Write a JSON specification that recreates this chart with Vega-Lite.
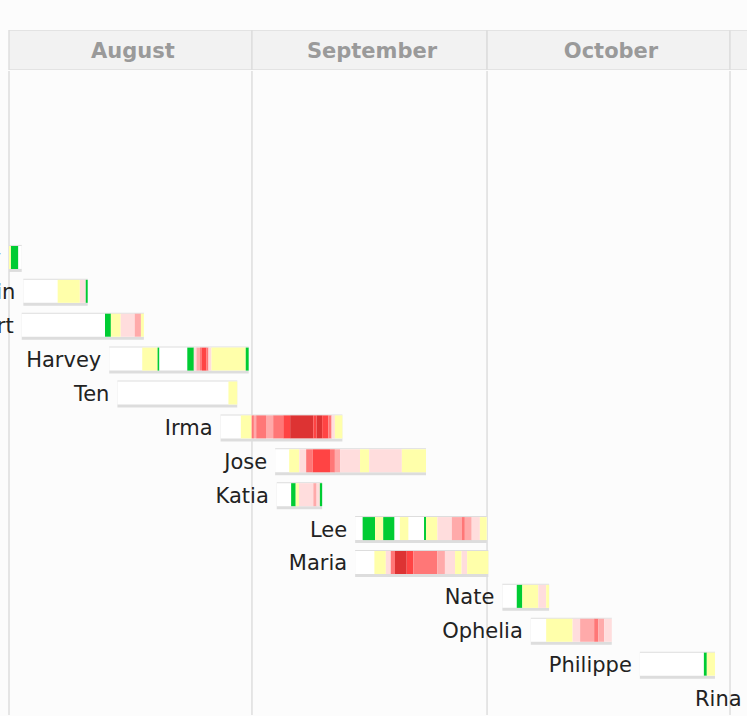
{
  "$schema": "https://vega.github.io/schema/vega-lite/v6.json",
  "background": "#fcfcfc",
  "padding": {"left": 0, "top": 30, "right": 0, "bottom": 0},
  "spacing": 0,
  "config": {"view": {"stroke": null}, "concat": {"spacing": 0}},
  "datasets": {
    "months": [
      {"month": "August", "start": "2017-08-01T00:00Z", "end": "2017-09-01T00:00Z", "mid": "2017-08-16T12:00Z"},
      {"month": "September", "start": "2017-09-01T00:00Z", "end": "2017-10-01T00:00Z", "mid": "2017-09-16T00:00Z"},
      {"month": "October", "start": "2017-10-01T00:00Z", "end": "2017-11-01T00:00Z", "mid": "2017-10-16T12:00Z"},
      {"month": "November", "start": "2017-11-01T00:00Z", "end": "2017-12-01T00:00Z", "mid": "2017-11-16T00:00Z"}
    ],
    "storms": [
      {"name": "Emily", "start": "2017-08-01T00:00Z", "end": "2017-08-02T15:00Z"},
      {"name": "Franklin", "start": "2017-08-02T20:00Z", "end": "2017-08-11T01:00Z"},
      {"name": "Gert", "start": "2017-08-02T15:00Z", "end": "2017-08-18T05:00Z"},
      {"name": "Harvey", "start": "2017-08-13T19:00Z", "end": "2017-08-31T14:00Z"},
      {"name": "Ten", "start": "2017-08-14T20:00Z", "end": "2017-08-30T03:00Z"},
      {"name": "Irma", "start": "2017-08-28T00:00Z", "end": "2017-09-12T13:00Z"},
      {"name": "Jose", "start": "2017-09-03T23:00Z", "end": "2017-09-23T05:00Z"},
      {"name": "Katia", "start": "2017-09-04T04:00Z", "end": "2017-09-09T23:00Z"},
      {"name": "Lee", "start": "2017-09-14T04:00Z", "end": "2017-09-30T23:00Z"},
      {"name": "Maria", "start": "2017-09-14T04:00Z", "end": "2017-10-01T04:00Z"},
      {"name": "Nate", "start": "2017-10-02T23:00Z", "end": "2017-10-08T22:00Z"},
      {"name": "Ophelia", "start": "2017-10-06T14:00Z", "end": "2017-10-16T22:00Z"},
      {"name": "Philippe", "start": "2017-10-20T12:00Z", "end": "2017-10-30T02:00Z"},
      {"name": "Rina", "start": "2017-11-03T12:00Z", "end": "2017-11-09T12:00Z"}
    ],
    "segs": [
      {"n": "Emily", "s": "2017-08-01T00:00Z", "e": "2017-08-01T06:00Z", "c": "TS"},
      {"n": "Emily", "s": "2017-08-01T06:00Z", "e": "2017-08-02T04:00Z", "c": "TD"},
      {"n": "Franklin", "s": "2017-08-07T05:00Z", "e": "2017-08-10T01:00Z", "c": "TS"},
      {"n": "Franklin", "s": "2017-08-10T01:00Z", "e": "2017-08-10T19:00Z", "c": "C1"},
      {"n": "Franklin", "s": "2017-08-10T19:00Z", "e": "2017-08-11T01:00Z", "c": "TD"},
      {"n": "Gert", "s": "2017-08-13T06:00Z", "e": "2017-08-14T00:00Z", "c": "TD"},
      {"n": "Gert", "s": "2017-08-14T00:00Z", "e": "2017-08-15T06:00Z", "c": "TS"},
      {"n": "Gert", "s": "2017-08-15T06:00Z", "e": "2017-08-17T01:00Z", "c": "C1"},
      {"n": "Gert", "s": "2017-08-17T01:00Z", "e": "2017-08-17T20:00Z", "c": "C2"},
      {"n": "Gert", "s": "2017-08-17T20:00Z", "e": "2017-08-18T05:00Z", "c": "TS"},
      {"n": "Harvey", "s": "2017-08-18T00:00Z", "e": "2017-08-19T23:00Z", "c": "TS"},
      {"n": "Harvey", "s": "2017-08-19T23:00Z", "e": "2017-08-20T04:00Z", "c": "TD"},
      {"n": "Harvey", "s": "2017-08-23T18:00Z", "e": "2017-08-24T14:00Z", "c": "TD"},
      {"n": "Harvey", "s": "2017-08-24T14:00Z", "e": "2017-08-24T22:00Z", "c": "C1"},
      {"n": "Harvey", "s": "2017-08-24T22:00Z", "e": "2017-08-25T09:00Z", "c": "C2"},
      {"n": "Harvey", "s": "2017-08-25T09:00Z", "e": "2017-08-25T15:00Z", "c": "C3"},
      {"n": "Harvey", "s": "2017-08-25T15:00Z", "e": "2017-08-26T05:00Z", "c": "C4"},
      {"n": "Harvey", "s": "2017-08-26T05:00Z", "e": "2017-08-26T11:00Z", "c": "C3"},
      {"n": "Harvey", "s": "2017-08-26T11:00Z", "e": "2017-08-26T20:00Z", "c": "C1"},
      {"n": "Harvey", "s": "2017-08-26T20:00Z", "e": "2017-08-31T05:00Z", "c": "TS"},
      {"n": "Harvey", "s": "2017-08-31T05:00Z", "e": "2017-08-31T14:00Z", "c": "TD"},
      {"n": "Ten", "s": "2017-08-29T00:00Z", "e": "2017-08-30T03:00Z", "c": "TS"},
      {"n": "Irma", "s": "2017-08-30T14:00Z", "e": "2017-08-31T23:00Z", "c": "TS"},
      {"n": "Irma", "s": "2017-08-31T23:00Z", "e": "2017-09-01T06:00Z", "c": "C3"},
      {"n": "Irma", "s": "2017-09-01T06:00Z", "e": "2017-09-01T13:00Z", "c": "C2"},
      {"n": "Irma", "s": "2017-09-01T13:00Z", "e": "2017-09-02T19:00Z", "c": "C3"},
      {"n": "Irma", "s": "2017-09-02T19:00Z", "e": "2017-09-03T17:00Z", "c": "C2"},
      {"n": "Irma", "s": "2017-09-03T17:00Z", "e": "2017-09-05T00:00Z", "c": "C3"},
      {"n": "Irma", "s": "2017-09-05T00:00Z", "e": "2017-09-05T21:00Z", "c": "C4"},
      {"n": "Irma", "s": "2017-09-05T21:00Z", "e": "2017-09-08T20:00Z", "c": "C5"},
      {"n": "Irma", "s": "2017-09-08T20:00Z", "e": "2017-09-09T06:00Z", "c": "C4"},
      {"n": "Irma", "s": "2017-09-09T06:00Z", "e": "2017-09-09T23:00Z", "c": "C5"},
      {"n": "Irma", "s": "2017-09-09T23:00Z", "e": "2017-09-10T18:00Z", "c": "C4"},
      {"n": "Irma", "s": "2017-09-10T18:00Z", "e": "2017-09-11T04:00Z", "c": "C3"},
      {"n": "Irma", "s": "2017-09-11T04:00Z", "e": "2017-09-11T14:00Z", "c": "C1"},
      {"n": "Irma", "s": "2017-09-11T14:00Z", "e": "2017-09-12T13:00Z", "c": "TS"},
      {"n": "Jose", "s": "2017-09-05T18:00Z", "e": "2017-09-07T01:00Z", "c": "TS"},
      {"n": "Jose", "s": "2017-09-07T01:00Z", "e": "2017-09-07T22:00Z", "c": "C1"},
      {"n": "Jose", "s": "2017-09-07T22:00Z", "e": "2017-09-08T18:00Z", "c": "C3"},
      {"n": "Jose", "s": "2017-09-08T18:00Z", "e": "2017-09-10T23:00Z", "c": "C4"},
      {"n": "Jose", "s": "2017-09-10T23:00Z", "e": "2017-09-11T14:00Z", "c": "C3"},
      {"n": "Jose", "s": "2017-09-11T14:00Z", "e": "2017-09-12T06:00Z", "c": "C2"},
      {"n": "Jose", "s": "2017-09-12T06:00Z", "e": "2017-09-14T19:00Z", "c": "C1"},
      {"n": "Jose", "s": "2017-09-14T19:00Z", "e": "2017-09-15T23:00Z", "c": "TS"},
      {"n": "Jose", "s": "2017-09-15T23:00Z", "e": "2017-09-20T03:00Z", "c": "C1"},
      {"n": "Jose", "s": "2017-09-20T03:00Z", "e": "2017-09-23T05:00Z", "c": "TS"},
      {"n": "Katia", "s": "2017-09-06T00:00Z", "e": "2017-09-06T14:00Z", "c": "TD"},
      {"n": "Katia", "s": "2017-09-06T14:00Z", "e": "2017-09-07T00:00Z", "c": "TS"},
      {"n": "Katia", "s": "2017-09-07T00:00Z", "e": "2017-09-08T20:00Z", "c": "C1"},
      {"n": "Katia", "s": "2017-09-08T20:00Z", "e": "2017-09-09T06:00Z", "c": "C2"},
      {"n": "Katia", "s": "2017-09-09T06:00Z", "e": "2017-09-09T16:00Z", "c": "C1"},
      {"n": "Katia", "s": "2017-09-09T16:00Z", "e": "2017-09-09T23:00Z", "c": "TD"},
      {"n": "Lee", "s": "2017-09-15T03:00Z", "e": "2017-09-16T17:00Z", "c": "TD"},
      {"n": "Lee", "s": "2017-09-16T17:00Z", "e": "2017-09-17T18:00Z", "c": "TS"},
      {"n": "Lee", "s": "2017-09-17T18:00Z", "e": "2017-09-19T04:00Z", "c": "TD"},
      {"n": "Lee", "s": "2017-09-19T21:00Z", "e": "2017-09-20T23:00Z", "c": "TS"},
      {"n": "Lee", "s": "2017-09-22T23:00Z", "e": "2017-09-23T05:00Z", "c": "TD"},
      {"n": "Lee", "s": "2017-09-23T05:00Z", "e": "2017-09-24T16:00Z", "c": "TS"},
      {"n": "Lee", "s": "2017-09-24T16:00Z", "e": "2017-09-26T12:00Z", "c": "C1"},
      {"n": "Lee", "s": "2017-09-26T12:00Z", "e": "2017-09-27T18:00Z", "c": "C2"},
      {"n": "Lee", "s": "2017-09-27T18:00Z", "e": "2017-09-28T04:00Z", "c": "C3"},
      {"n": "Lee", "s": "2017-09-28T04:00Z", "e": "2017-09-29T01:00Z", "c": "C2"},
      {"n": "Lee", "s": "2017-09-29T01:00Z", "e": "2017-09-30T02:00Z", "c": "C1"},
      {"n": "Lee", "s": "2017-09-30T02:00Z", "e": "2017-09-30T23:00Z", "c": "TS"},
      {"n": "Maria", "s": "2017-09-16T15:00Z", "e": "2017-09-18T02:00Z", "c": "TS"},
      {"n": "Maria", "s": "2017-09-18T02:00Z", "e": "2017-09-18T17:00Z", "c": "C1"},
      {"n": "Maria", "s": "2017-09-18T17:00Z", "e": "2017-09-19T06:00Z", "c": "C3"},
      {"n": "Maria", "s": "2017-09-19T06:00Z", "e": "2017-09-20T18:00Z", "c": "C5"},
      {"n": "Maria", "s": "2017-09-20T18:00Z", "e": "2017-09-21T14:00Z", "c": "C4"},
      {"n": "Maria", "s": "2017-09-21T14:00Z", "e": "2017-09-24T16:00Z", "c": "C3"},
      {"n": "Maria", "s": "2017-09-24T16:00Z", "e": "2017-09-25T15:00Z", "c": "C2"},
      {"n": "Maria", "s": "2017-09-25T15:00Z", "e": "2017-09-26T22:00Z", "c": "C1"},
      {"n": "Maria", "s": "2017-09-26T22:00Z", "e": "2017-09-27T18:00Z", "c": "TS"},
      {"n": "Maria", "s": "2017-09-27T18:00Z", "e": "2017-09-28T11:00Z", "c": "C1"},
      {"n": "Maria", "s": "2017-09-28T11:00Z", "e": "2017-10-01T04:00Z", "c": "TS"},
      {"n": "Nate", "s": "2017-10-04T19:00Z", "e": "2017-10-05T12:00Z", "c": "TD"},
      {"n": "Nate", "s": "2017-10-05T12:00Z", "e": "2017-10-07T13:00Z", "c": "TS"},
      {"n": "Nate", "s": "2017-10-07T13:00Z", "e": "2017-10-08T13:00Z", "c": "C1"},
      {"n": "Nate", "s": "2017-10-08T13:00Z", "e": "2017-10-08T22:00Z", "c": "TS"},
      {"n": "Ophelia", "s": "2017-10-08T13:00Z", "e": "2017-10-11T22:00Z", "c": "TS"},
      {"n": "Ophelia", "s": "2017-10-11T22:00Z", "e": "2017-10-12T21:00Z", "c": "C1"},
      {"n": "Ophelia", "s": "2017-10-12T21:00Z", "e": "2017-10-14T16:00Z", "c": "C2"},
      {"n": "Ophelia", "s": "2017-10-14T16:00Z", "e": "2017-10-15T05:00Z", "c": "C3"},
      {"n": "Ophelia", "s": "2017-10-15T05:00Z", "e": "2017-10-15T23:00Z", "c": "C2"},
      {"n": "Ophelia", "s": "2017-10-15T23:00Z", "e": "2017-10-16T22:00Z", "c": "C1"},
      {"n": "Philippe", "s": "2017-10-28T16:00Z", "e": "2017-10-29T01:00Z", "c": "TD"},
      {"n": "Philippe", "s": "2017-10-29T01:00Z", "e": "2017-10-30T02:00Z", "c": "TS"},
      {"n": "Rina", "s": "2017-11-05T00:00Z", "e": "2017-11-09T00:00Z", "c": "TS"}
    ],
    "bounds": [
      {"d": "2017-08-01T00:00Z"},
      {"d": "2017-09-01T00:00Z"},
      {"d": "2017-10-01T00:00Z"},
      {"d": "2017-11-01T00:00Z"}
    ]
  },
  "vconcat": [
    {
      "width": 747,
      "height": 40,
      "data": {"name": "months"},
      "layer": [
        {
          "mark": {"type": "rect", "fill": "#f2f2f2", "stroke": "#dedede", "strokeWidth": 1.5, "clip": true},
          "encoding": {
            "x": {"field": "start", "type": "temporal", "axis": null,
                  "scale": {"domain": [{"year": 2017, "month": 7, "date": 30, "hours": 20, "minutes": 26, "utc": true}, {"year": 2017, "month": 11, "date": 3, "hours": 4, "minutes": 5, "utc": true}]}},
            "x2": {"field": "end"}
          }
        },
        {
          "mark": {"type": "text", "font": "DejaVu Sans", "fontWeight": "bold", "fontSize": 21, "fill": "#9a9a9a", "dx": 2.5, "dy": 2, "clip": true},
          "encoding": {
            "x": {"field": "mid", "type": "temporal", "axis": null},
            "text": {"field": "month"}
          }
        }
      ]
    },
    {
      "width": 747,
      "height": 644,
      "layer": [
        {
          "data": {"name": "bounds"},
          "mark": {"type": "rule", "color": "#dedede", "strokeWidth": 1.5},
          "encoding": {
            "x": {"field": "d", "type": "temporal", "axis": null,
                  "scale": {"domain": [{"year": 2017, "month": 7, "date": 30, "hours": 20, "minutes": 26, "utc": true}, {"year": 2017, "month": 11, "date": 3, "hours": 4, "minutes": 5, "utc": true}]}}
          }
        },
        {
          "data": {"name": "storms"},
          "mark": {"type": "bar", "height": 27, "yOffset": 1, "fill": "#dddddd", "clip": true},
          "encoding": {
            "x": {"field": "start", "type": "temporal", "axis": null},
            "x2": {"field": "end"},
            "y": {"field": "name", "type": "nominal", "axis": null,
                  "scale": {"domain": ["Arlene", "Bret", "Cindy", "Four", "Don", "Emily", "Franklin", "Gert", "Harvey", "Ten", "Irma", "Jose", "Katia", "Lee", "Maria", "Nate", "Ophelia", "Philippe", "Rina"], "paddingInner": 0, "paddingOuter": 0}}
          }
        },
        {
          "data": {"name": "storms"},
          "mark": {"type": "bar", "height": 23, "yOffset": 0, "fill": "#ffffff", "clip": true},
          "encoding": {
            "x": {"field": "start", "type": "temporal", "axis": null},
            "x2": {"field": "end"},
            "y": {"field": "name", "type": "nominal", "axis": null}
          }
        },
        {
          "data": {"name": "segs"},
          "mark": {"type": "bar", "height": 23, "yOffset": 0, "clip": true},
          "encoding": {
            "x": {"field": "s", "type": "temporal", "axis": null},
            "x2": {"field": "e"},
            "y": {"field": "n", "type": "nominal", "axis": null},
            "color": {"field": "c", "type": "nominal", "legend": null,
                      "scale": {"domain": ["W", "TD", "TS", "C1", "C2", "C3", "C4", "C5"],
                                "range": ["#ffffff", "#00cc33", "#ffffaa", "#ffdddd", "#ffaaaa", "#ff7777", "#ff4444", "#dd3333"]}}
          }
        },
        {
          "data": {"name": "storms"},
          "mark": {"type": "text", "align": "right", "baseline": "alphabetic", "dx": -8, "dy": 8, "font": "DejaVu Sans", "fontSize": 21, "fill": "#222222", "clip": true},
          "encoding": {
            "x": {"field": "start", "type": "temporal", "axis": null},
            "y": {"field": "name", "type": "nominal", "axis": null},
            "text": {"field": "name"}
          }
        }
      ]
    }
  ]
}
